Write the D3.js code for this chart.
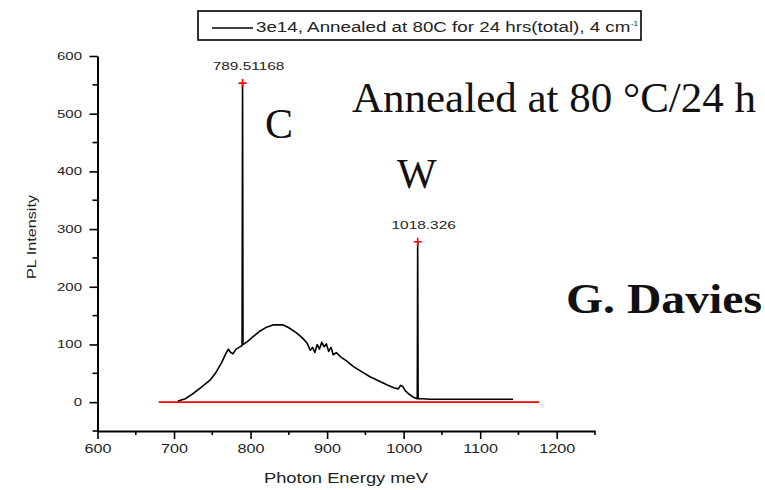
<!DOCTYPE html>
<html>
<head>
<meta charset="utf-8">
<script src="https://cdn.jsdelivr.net/npm/d3@7"></script>
<style>
  html, body { margin: 0; padding: 0; background: #fff; }
  svg { display: block; }
</style>
</head>
<body>
<svg id="chart" width="765" height="490"></svg>
<script>
// PL spectrum, photon energy (meV) and intensity
const energy = [705, 715, 725, 735, 747, 755, 762, 768, 771, 774, 777, 781, 785, 788.9, 789.51168, 790.1,
  795, 803, 812, 821, 830, 842, 850, 860, 868, 874, 878, 881, 884, 887, 890, 893, 896, 899, 902, 905,
  908, 912, 918, 925, 934, 945, 956, 967, 978, 987, 993, 996, 999, 1002, 1006, 1012, 1017.8, 1018.326,
  1018.9, 1025, 1035, 1060, 1100, 1143];
const intensity = [2, 6, 15, 25, 38, 52, 68, 85, 92, 86, 84, 92, 95, 98, 553, 100,
  104, 113, 123, 130, 134, 134, 129, 120, 111, 102, 90, 95, 86, 100, 92, 104, 96, 101, 88, 95,
  82, 86, 78, 72, 62, 53, 44, 37, 30, 25, 23, 29, 27, 20, 15, 9, 6, 278,
  6, 6, 5, 5, 5, 5];

// labelled peaks
const peakEnergy = [789.51168, 1018.326];
const peakIntensity = [553, 278];
const peakLabels = ["789.51168", "1018.326"];

// baseline segment
const baselineEnergy = [680, 1177];
const baselineIntensity = [0, 0];

// axes
const xTicks = [600, 700, 800, 900, 1000, 1100, 1200];
const xMinorTicks = [650, 750, 850, 950, 1050, 1150, 1250];
const yTicks = [0, 100, 200, 300, 400, 500, 600];
const yMinorTicks = [-50, 50, 150, 250, 350, 450, 550];

const legendLabel = "3e14, Annealed at 80C for 24 hrs(total), 4 cm";
const legendSup = "-1";
const xTitle = "Photon Energy meV";
const yTitle = "PL Intensity";

const svg = d3.select("#chart");
const sans = "'Liberation Sans', Arial, sans-serif";
const serif = "'Liberation Serif', 'Times New Roman', serif";

// the plot's lettering is set wide: stretch each text run horizontally
function widen(sel, factor) {
  sel.each(function () {
    const w = this.getComputedTextLength();
    d3.select(this).attr("textLength", w * factor).attr("lengthAdjust", "spacingAndGlyphs");
  });
}

const x = d3.scaleLinear().domain([600, 1250]).range([97.5, 595]);
const y = d3.scaleLinear().domain([-50, 600]).range([431, 56]);

// axes
const xAxisG = svg.append("g").attr("transform", `translate(0,${y(-50)})`);
xAxisG.call(d3.axisBottom(x).tickValues(xTicks).tickFormat(d3.format("d")).tickSize(8).tickSizeOuter(0))
  .call(g => g.select(".domain").attr("stroke-width", 2));
xAxisG.selectAll(".tick line").attr("stroke-width", 1.6);
xAxisG.selectAll(".tick text").attr("font-family", sans).attr("font-size", 12).attr("dy", "0.95em").attr("fill", "#222")
  .call(widen, 1.35);
xAxisG.selectAll(".minor").data(xMinorTicks).enter().append("line")
  .attr("x1", d => x(d)).attr("x2", d => x(d)).attr("y1", 0).attr("y2", 4)
  .attr("stroke", "#000").attr("stroke-width", 1.6);

const yAxisG = svg.append("g").attr("transform", `translate(${x(600)},0)`);
yAxisG.call(d3.axisLeft(y).tickValues(yTicks).tickFormat(d3.format("d")).tickSize(8).tickSizeOuter(0))
  .call(g => g.select(".domain").attr("stroke-width", 2));
yAxisG.selectAll(".tick line").attr("stroke-width", 1.6);
yAxisG.selectAll(".tick text").attr("font-family", sans).attr("font-size", 11).attr("x", -15.5).attr("fill", "#222")
  .call(widen, 1.36);
yAxisG.selectAll(".minor").data(yMinorTicks).enter().append("line")
  .attr("x1", -5).attr("x2", 0).attr("y1", d => y(d)).attr("y2", d => y(d))
  .attr("stroke", "#000").attr("stroke-width", 1.6);

// axis titles
svg.append("text").attr("x", 346).attr("y", 483).attr("text-anchor", "middle")
  .attr("font-family", sans).attr("font-size", 14).attr("fill", "#222").text(xTitle)
  .call(widen, 1.31);
svg.append("text").attr("transform", "translate(36,237) rotate(-90)").attr("text-anchor", "middle")
  .attr("font-family", sans).attr("font-size", 12).attr("fill", "#222").text(yTitle)
  .call(widen, 1.35);

// red baseline
const line = d3.line().x(d => x(d[0])).y(d => y(d[1]));
svg.append("path").datum(d3.zip(baselineEnergy, baselineIntensity))
  .attr("d", line).attr("fill", "none").attr("stroke", "#ff0000").attr("stroke-width", 1.8);

// spectrum
svg.append("path").datum(d3.zip(energy, intensity))
  .attr("d", line).attr("fill", "none").attr("stroke", "#000").attr("stroke-width", 1.6)
  .attr("stroke-linejoin", "round");

// peak markers and labels
const peaks = d3.zip(peakEnergy, peakIntensity, peakLabels);
svg.selectAll(".pk").data(peaks).enter().append("path")
  .attr("d", d => `M${x(d[0]) - 4},${y(d[1])}H${x(d[0]) + 4}M${x(d[0])},${y(d[1]) - 4}V${y(d[1]) + 4}`)
  .attr("stroke", "#ff0000").attr("stroke-width", 1.6);
svg.selectAll(".pl").data(peaks).enter().append("text")
  .attr("x", d => x(d[0]) + 6).attr("y", d => y(d[1]) - 13)
  .attr("text-anchor", "middle").attr("font-family", sans).attr("font-size", 11).attr("fill", "#222")
  .text(d => d[2])
  .call(widen, 1.4);

// legend
svg.append("rect").attr("x", 198).attr("y", 11).attr("width", 443).attr("height", 29)
  .attr("fill", "#fff").attr("stroke", "#000").attr("stroke-width", 1.6);
svg.append("line").attr("x1", 212).attr("x2", 253).attr("y1", 28).attr("y2", 28)
  .attr("stroke", "#000").attr("stroke-width", 1.6);
const lt = svg.append("text").attr("x", 256).attr("y", 32).attr("font-family", sans)
  .attr("font-size", 14).attr("fill", "#222").text(legendLabel);
const ltFactor = 1.34;
const ltWidth = lt.node().getComputedTextLength() * ltFactor;
lt.attr("textLength", ltWidth).attr("lengthAdjust", "spacingAndGlyphs");
svg.append("text").attr("x", 256 + ltWidth + 0.5).attr("y", 26).attr("font-family", sans)
  .attr("font-size", 8).attr("fill", "#222").text(legendSup);

// annotations
svg.append("text").attr("x", 352).attr("y", 112).attr("font-family", serif).attr("font-size", 42)
  .attr("fill", "#111").text("Annealed at 80 °C/24 h")
  .attr("textLength", 404).attr("lengthAdjust", "spacingAndGlyphs");
svg.append("text").attr("x", 265).attr("y", 138).attr("font-family", serif).attr("font-size", 42)
  .attr("fill", "#111").text("C");
svg.append("text").attr("x", 397).attr("y", 188).attr("font-family", serif).attr("font-size", 42)
  .attr("fill", "#111").text("W");
svg.append("text").attr("x", 566).attr("y", 313).attr("font-family", serif).attr("font-size", 42)
  .attr("font-weight", "bold").attr("fill", "#111").text("G. Davies")
  .attr("textLength", 196).attr("lengthAdjust", "spacingAndGlyphs");
</script>
</body>
</html>
